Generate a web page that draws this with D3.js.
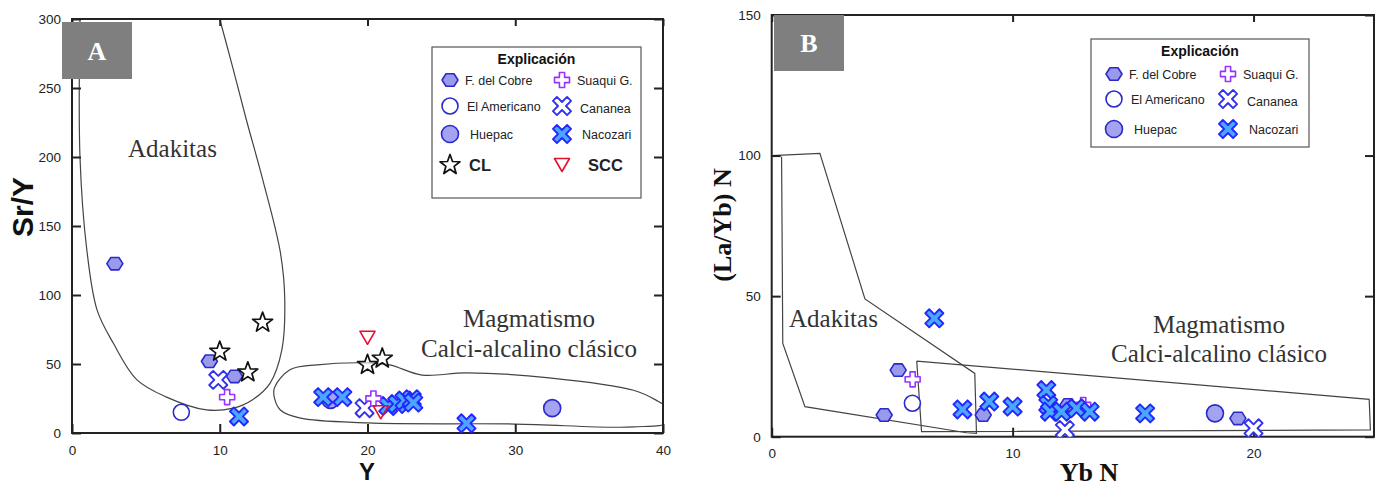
<!DOCTYPE html>
<html>
<head>
<meta charset="utf-8">
<script src="https://cdnjs.cloudflare.com/ajax/libs/d3/7.8.5/d3.min.js"></script>
<style>
  body { margin: 0; background: #fff; }
  svg { display: block; }
</style>
</head>
<body>
<svg id="chart" width="1382" height="487"></svg>
<script>
// ---- Panel A data: Y vs Sr/Y ----
const aTicksX = [0, 10, 20, 30, 40];
const aTicksY = [0, 50, 100, 150, 200, 250, 300];
const aFCobre = [[2.9, 122.7], [9.3, 52], [11, 41]];
const aAmericano = [[7.4, 15]];
const aHuepac = [[17.5, 24], [32.5, 18]];
const aSuaqui = [[10.5, 26], [20.4, 25]];
const aCananea = [[9.9, 38.5], [19.8, 18]];
const aNacozari = [[11.3, 12], [17, 26], [18.3, 26], [21.4, 19.5], [22.0, 21], [22.5, 23.5], [23.0, 24.5], [23.1, 22], [26.7, 7]];
const aCL = [[12.9, 80], [10, 59], [11.9, 44], [20, 49.4], [21, 54]];
const aSCC = [[20, 69], [20.9, 15]];
// field outlines
const aAdakitas = [[0.54, 300], [0.54, 200], [1.0, 133], [1.7, 89], [2.8, 65], [4.4, 38.5], [6.4, 26], [9.1, 16.7],
  [10.9, 18], [12.2, 24], [13.4, 36], [14.2, 60], [14.4, 97], [14.1, 131], [12.9, 184], [11.8, 227], [10.9, 264], [10.0, 300]];
const aCalcAlk = [[13.7, 32.7], [14.75, 45.8], [16.6, 49.4], [20.0, 50.8], [21.5, 49.4], [23.7, 42], [26.7, 43.6],
  [32.3, 40], [38, 31], [39.5, 24], [40.4, 17], [40.4, 8], [38, 4.4], [30, 6.5], [20, 7.3], [15.4, 10.9], [14.1, 16.7], [13.7, 25.4]];

// ---- Panel B data: Yb N vs (La/Yb) N ----
const bTicksX = [0, 10, 20];
const bTicksY = [0, 50, 100, 150];
const bFCobre = [[5.25, 23.7], [4.67, 7.7], [8.78, 7.7], [12.3, 11.3], [19.35, 6.5]];
const bAmericano = [[5.84, 11.9]];
const bHuepac = [[18.4, 8.3]];
const bSuaqui = [[5.85, 20.4], [12.93, 11.3]];
const bCananea = [[12.17, 2.4], [20.0, 3.0]];
const bNacozari = [[6.75, 42.1], [7.92, 9.7], [9.03, 12.5], [10.0, 10.7], [11.4, 16.6], [11.48, 11.3], [11.55, 8.9],
  [12.03, 8.9], [12.65, 10.1], [13.2, 8.9], [15.5, 8.3]];
const bAdakitas = [[0, 100], [2.0, 100.8], [3.87, 49], [8.43, 22.5], [8.5, 1.2], [8.09, 1.4], [1.38, 10.7], [0.46, 33.2], [0.41, 99.6]];
const bCalcAlk = [[6.02, 26.9], [24.8, 13.3], [24.85, 2.4], [6.22, 1.8], [6.02, 26.9]];

const legendLeft = ["F. del Cobre", "El Americano", "Huepac", "CL"];
const legendRight = ["Suaqui G.", "Cananea", "Nacozari", "SCC"];

const svg = d3.select("#chart");

// marker styles
const styles = {
  hex:   { stroke: "#2a2acc", fill: "#9a9aec", sw: 1.6 },
  open:  { stroke: "#2a2acc", fill: "#fff", sw: 1.6 },
  huep:  { stroke: "#2a2acc", fill: "#a3a3ef", sw: 1.6 },
  plus:  { stroke: "#9933ff", fill: "#fff", sw: 1.6 },
  xopen: { stroke: "#3232ee", fill: "#fff", sw: 1.9 },
  xfill: { stroke: "#2626ff", fill: "#4aa6ff", sw: 1.9 },
  star:  { stroke: "#111", fill: "rgba(255,255,255,0.6)", sw: 1.7 },
  tri:   { stroke: "#e4102c", fill: "none", sw: 1.6 }
};

function shapePath(type) {
  let pts = [];
  if (type === "hex") {
    for (let i = 0; i < 6; i++) { const a = i * Math.PI / 3; pts.push([8 * Math.cos(a), 7.2 * Math.sin(a)]); }
  } else if (type === "plus") {
    const a = 7.5, w = 2.6;
    pts = [[w,-a],[w,-w],[a,-w],[a,w],[w,w],[w,a],[-w,a],[-w,w],[-a,w],[-a,-w],[-w,-w],[-w,-a]];
  } else if (type === "xopen" || type === "xfill") {
    const a = 10, w = 2.8, c = Math.SQRT1_2;
    pts = [[w,-a],[w,-w],[a,-w],[a,w],[w,w],[w,a],[-w,a],[-w,w],[-a,w],[-a,-w],[-w,-w],[-w,-a]]
      .map(([x, y]) => [c * (x - y), c * (x + y)]);
  } else if (type === "star") {
    for (let i = 0; i < 10; i++) {
      const r = i % 2 ? 4.3 : 10.5, a = -Math.PI / 2 + i * Math.PI / 5;
      pts.push([r * Math.cos(a), r * Math.sin(a)]);
    }
  } else if (type === "tri") {
    pts = [[-7.5, -6.5], [7.5, -6.5], [0, 6.5]];
  }
  return "M" + pts.map(p => p[0].toFixed(2) + "," + p[1].toFixed(2)).join("L") + "Z";
}

function marker(g, type, x, y) {
  const s = styles[type];
  if (type === "open" || type === "huep") {
    g.append("circle").attr("cx", x).attr("cy", y).attr("r", type === "open" ? 8 : 8.5)
      .attr("fill", s.fill).attr("stroke", s.stroke).attr("stroke-width", s.sw);
  } else {
    g.append("path").attr("d", shapePath(type)).attr("transform", `translate(${x},${y})`)
      .attr("fill", s.fill).attr("stroke", s.stroke).attr("stroke-width", s.sw)
      .attr("stroke-linejoin", "round");
  }
}

function drawPanel(opt) {
  const { x, y, id } = opt;
  const g = svg.append("g");
  const [x0, x1] = x.range(), [y0, y1] = y.range();

  g.append("clipPath").attr("id", "clip" + id).append("rect")
    .attr("x", x0).attr("y", y1).attr("width", x1 - x0).attr("height", y0 - y1);

  // field outlines
  const fields = g.append("g").attr("clip-path", `url(#clip${id})`)
    .attr("fill", "none").attr("stroke", "#444").attr("stroke-width", 1.2);
  opt.fields.forEach(f => {
    fields.append("path").attr("d", d3.line().x(d => x(d[0])).y(d => y(d[1])).curve(f.curve)(f.pts));
  });

  // field labels
  opt.labels.forEach(l => {
    g.append("text").attr("x", l.x).attr("y", l.y).attr("text-anchor", l.anchor || "middle")
      .attr("font-family", "Liberation Serif, Times New Roman, serif").attr("font-size", l.size)
      .attr("fill", "#333").text(l.text);
  });

  // axes: ticks point inward on all four sides
  const fmt = (g) => g.call(s => s.select(".domain").remove())
    .call(s => s.selectAll("line").attr("stroke", "#222").attr("stroke-width", 2))
    .call(s => s.selectAll("text").attr("font-family", "Liberation Sans, Arial, sans-serif")
      .attr("font-size", 13.5).attr("fill", "#222"));
  g.append("g").attr("transform", `translate(${x0},0)`)
    .call(d3.axisLeft(y).tickValues(opt.ticksY).tickFormat(d3.format("d")).tickSize(-9).tickPadding(11)).call(fmt);
  g.append("g").attr("transform", `translate(${x1},0)`)
    .call(d3.axisRight(y).tickValues(opt.ticksY).tickFormat("").tickSize(-9)).call(fmt);
  g.append("g").attr("transform", `translate(0,${y1})`)
    .call(d3.axisTop(x).tickValues(opt.ticksX).tickFormat("").tickSize(-7)).call(fmt);
  g.append("g").attr("transform", `translate(0,${y0})`)
    .call(d3.axisBottom(x).tickValues(opt.ticksX).tickFormat(d3.format("d")).tickSize(-9).tickPadding(12)).call(fmt);

  g.append("rect").attr("x", x0).attr("y", y1).attr("width", x1 - x0).attr("height", y0 - y1)
    .attr("fill", "none").attr("stroke", "#222").attr("stroke-width", 2);

  // points
  const pts = g.append("g").attr("clip-path", `url(#clip${id})`);
  opt.series.forEach(s => s.data.forEach(d => marker(pts, s.type, x(d[0]), y(d[1]))));

  // panel letter
  g.append("rect").attr("x", opt.box[0]).attr("y", opt.box[1]).attr("width", opt.box[2]).attr("height", opt.box[3])
    .attr("fill", "#7f7f7f");
  g.append("text").attr("x", opt.box[0] + opt.box[2] / 2).attr("y", opt.box[1] + opt.box[3] / 2 + 9)
    .attr("text-anchor", "middle").attr("font-family", "Liberation Serif, serif").attr("font-weight", "bold")
    .attr("font-size", 26).attr("fill", "#fff").text(id);

  // axis titles
  g.append("text").attr("transform", `translate(${opt.yTitle.x},${opt.yTitle.y}) rotate(-90)`)
    .attr("text-anchor", "middle").attr("font-family", opt.titleFont).attr("font-weight", "bold")
    .attr("font-size", opt.yTitle.size).attr("fill", "#111").text(opt.yTitle.text);
  g.append("text").attr("x", opt.xTitle.x).attr("y", opt.xTitle.y)
    .attr("text-anchor", "middle").attr("font-family", opt.titleFont).attr("font-weight", "bold")
    .attr("font-size", opt.xTitle.size).attr("fill", "#111").text(opt.xTitle.text);

  // legend
  const L = opt.legend;
  const lg = g.append("g");
  lg.append("rect").attr("x", L.x).attr("y", L.y).attr("width", L.w).attr("height", L.h)
    .attr("fill", "#fff").attr("stroke", "#555").attr("stroke-width", 1.2);
  lg.append("text").attr("x", L.x + L.w / 2).attr("y", L.y + 17).attr("text-anchor", "middle")
    .attr("font-family", "Liberation Sans, Arial, sans-serif").attr("font-weight", "bold")
    .attr("font-size", 14).attr("fill", "#111").text("Explicación");
  const leftTypes = ["hex", "open", "huep", "star"], rightTypes = ["plus", "xopen", "xfill", "tri"];
  for (let i = 0; i < L.rows; i++) {
    const ry = L.y + L.rowY[i];
    const big = i === 3;
    marker(lg, leftTypes[i], L.x + L.m1, ry);
    lg.append("text").attr("x", L.x + L.t1[i]).attr("y", ry + (big ? 6 : 4.5))
      .attr("font-family", "Liberation Sans, Arial, sans-serif").attr("font-weight", big ? "bold" : "normal")
      .attr("font-size", big ? 16.5 : 12.5).attr("fill", "#222").text(legendLeft[i]);
    marker(lg, rightTypes[i], L.x + L.m2, ry);
    lg.append("text").attr("x", L.x + L.t2[i]).attr("y", ry + (big ? 6 : 4.5) + (i === 1 ? 2 : 0))
      .attr("font-family", "Liberation Sans, Arial, sans-serif").attr("font-weight", big ? "bold" : "normal")
      .attr("font-size", big ? 16.5 : 12.5).attr("fill", "#222").text(legendRight[i]);
  }
}

drawPanel({
  id: "A",
  x: d3.scaleLinear().domain([0, 40]).range([72, 663]),
  y: d3.scaleLinear().domain([0, 300]).range([433, 19]),
  ticksX: aTicksX, ticksY: aTicksY,
  fields: [
    { pts: aAdakitas, curve: d3.curveCatmullRom },
    { pts: aCalcAlk, curve: d3.curveCatmullRomClosed }
  ],
  labels: [
    { text: "Adakitas", x: 128, y: 157, anchor: "start", size: 25 },
    { text: "Magmatismo", x: 529, y: 327, size: 25 },
    { text: "Calci-alcalino clásico", x: 529, y: 357, size: 25 }
  ],
  series: [
    { type: "hex", data: aFCobre }, { type: "huep", data: aHuepac }, { type: "open", data: aAmericano },
    { type: "xopen", data: aCananea }, { type: "xfill", data: aNacozari }, { type: "plus", data: aSuaqui },
    { type: "star", data: aCL }, { type: "tri", data: aSCC }
  ],
  box: [62, 22, 70, 57],
  titleFont: "Liberation Sans, Arial, sans-serif",
  yTitle: { text: "Sr/Y", x: 33, y: 207, size: 30 },
  xTitle: { text: "Y", x: 367, y: 480, size: 24 },
  legend: { x: 432, y: 47, w: 209, h: 151, rows: 4, rowY: [33, 59, 87, 118], m1: 18, m2: 130,
    t1: [33, 35, 38, 37], t2: [145, 148, 150, 156] }
});

drawPanel({
  id: "B",
  x: d3.scaleLinear().domain([0, 25]).range([771.7, 1374]),
  y: d3.scaleLinear().domain([0, 150]).range([436.7, 15]),
  ticksX: bTicksX, ticksY: bTicksY,
  fields: [
    { pts: bAdakitas, curve: d3.curveLinear },
    { pts: bCalcAlk, curve: d3.curveLinear }
  ],
  labels: [
    { text: "Adakitas", x: 789, y: 327, anchor: "start", size: 25 },
    { text: "Magmatismo", x: 1219, y: 333, size: 25 },
    { text: "Calci-alcalino clásico", x: 1219, y: 362, size: 25 }
  ],
  series: [
    { type: "hex", data: bFCobre }, { type: "huep", data: bHuepac }, { type: "open", data: bAmericano },
    { type: "plus", data: bSuaqui }, { type: "xopen", data: bCananea }, { type: "xfill", data: bNacozari }
  ],
  box: [774, 15, 70, 56],
  titleFont: "Liberation Serif, Times New Roman, serif",
  yTitle: { text: "(La/Yb) N", x: 731, y: 225, size: 26 },
  xTitle: { text: "Yb N", x: 1089, y: 481, size: 26 },
  legend: { x: 1091, y: 39, w: 218, h: 108, rows: 3, rowY: [35, 60, 90], m1: 23, m2: 137,
    t1: [38, 40, 43], t2: [152, 156, 158] }
});
</script>
</body>
</html>
